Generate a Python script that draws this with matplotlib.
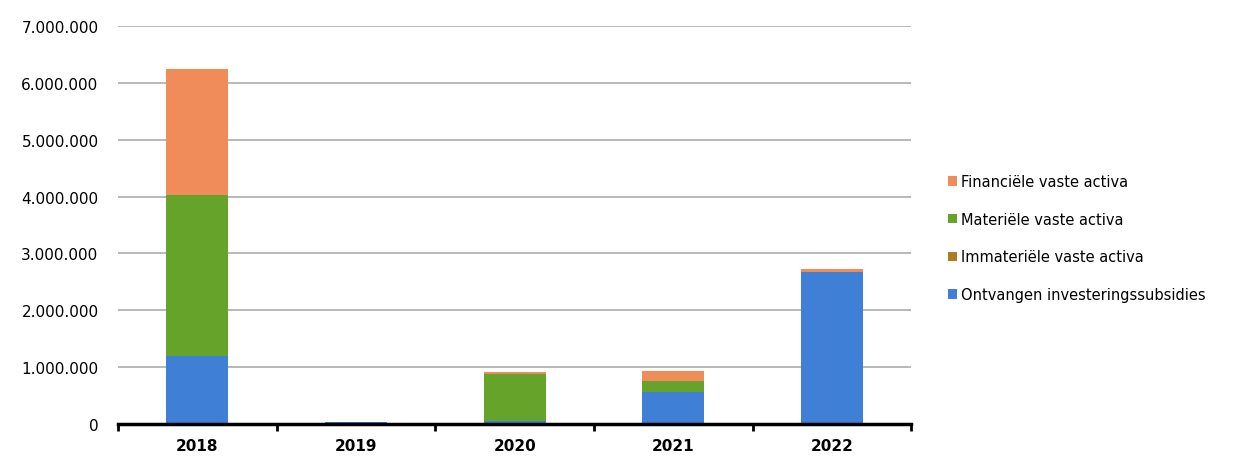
import matplotlib.pyplot as plt
import numpy as np

# ----------------------------------------------------------------------
# Data (in euros)
# ----------------------------------------------------------------------
years = ["2018", "2019", "2020", "2021", "2022"]
ontvangen = [1200000, 40000, 60000, 560000, 2670000]
immaterieel = [0, 0, 0, 10000, 0]
materieel = [2820000, 0, 820000, 180000, 0]
financieel = [2220000, 0, 40000, 180000, 50000]

series = [
    ("Ontvangen investeringssubsidies", ontvangen, "#3F7FD6"),
    ("Immateriële vaste activa", immaterieel, "#B07A1E"),
    ("Materiële vaste activa", materieel, "#66A32A"),
    ("Financiële vaste activa", financieel, "#F08C5A"),
]

# ----------------------------------------------------------------------
# Plot
# ----------------------------------------------------------------------
fig = plt.figure(figsize=(12.34, 4.64), dpi=100)
ax = fig.add_axes([0.0956, 0.084, 0.643, 0.858])

x = np.arange(len(years))
bottom = np.zeros(len(years))
handles = []
for name, vals, color in series:
    h = ax.bar(x, vals, width=0.39, bottom=bottom, color=color, label=name, zorder=3)
    handles.append(h)
    bottom += np.array(vals)

ax.set_xlim(-0.5, len(years) - 0.5)
ax.set_ylim(0, 7000000)
ax.set_yticks(np.arange(0, 7000001, 1000000))
ax.set_yticklabels([f"{int(v):,}".replace(",", ".") for v in ax.get_yticks()], fontsize=11)
ax.set_xticks(x)
ax.set_xticklabels(years, fontsize=11, fontweight="bold")

# boundary tick marks on x axis
ax.set_xticks(np.arange(-0.5, len(years), 1), minor=True)
ax.tick_params(axis="x", which="major", length=0, pad=10)
ax.tick_params(axis="x", which="minor", length=5, width=2, color="black")
ax.tick_params(axis="y", length=0, pad=14)

ax.grid(True, axis="y", color="#ABABAB", linewidth=1.2, zorder=0)
for s in ["top", "right", "left"]:
    ax.spines[s].set_visible(False)
ax.spines["bottom"].set_linewidth(2.5)
ax.spines["bottom"].set_color("black")
ax.spines["bottom"].set_zorder(4)

ax.legend(handles[::-1], [s[0] for s in series][::-1], loc="center left",
          bbox_to_anchor=(1.03, 0.467), frameon=False, fontsize=10.5,
          handlelength=0.6, handleheight=0.6, handletextpad=0.3, labelspacing=1.55)

plt.savefig("out.png", dpi=100)
